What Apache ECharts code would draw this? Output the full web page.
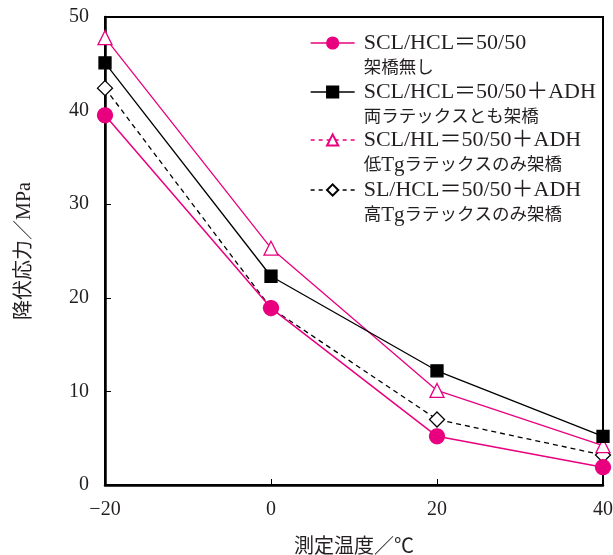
<!DOCTYPE html>
<html>
<head>
<meta charset="utf-8">
<script src="https://cdn.jsdelivr.net/npm/echarts@6/dist/echarts.min.js"></script>
<style>
  html, body { margin: 0; padding: 0; background: #fff; }
  #chart { width: 613px; height: 555px; }
</style>
</head>
<body>
<div id="chart"></div>
<script>
// Measurement temperatures (°C)
const temps = [-20, 0, 20, 40];

// Yield stress (MPa) for each latex blend
const noCrosslink   = [39.5, 18.9, 5.2, 1.9];   // SCL/HCL=50/50, no crosslinking
const bothCrosslink = [45.1, 22.3, 12.2, 5.2];  // SCL/HCL=50/50+ADH, both latexes crosslinked
const lowTgOnly     = [47.8, 25.3, 10.1, 4.2];  // SCL/HL=50/50+ADH, low-Tg latex only
const highTgOnly    = [42.4, 18.9, 7.0, 3.2];   // SL/HCL=50/50+ADH, high-Tg latex only

// Legend labels: formula line + description line
const formulaLines = [
  'SCL/HCL＝50/50',
  'SCL/HCL＝50/50＋ADH',
  'SCL/HL＝50/50＋ADH',
  'SL/HCL＝50/50＋ADH'
];
const noteLines = [
  '架橋無し',
  '両ラテックスとも架橋',
  '低Tgラテックスのみ架橋',
  '高Tgラテックスのみ架橋'
];
const seriesNames = formulaLines.map((f, i) => f + '\n' + noteLines[i]);

const xTicks = [-20, 0, 20, 40];
const yTicks = [0, 10, 20, 30, 40, 50];

const PINK = '#e8007f';
const INK = '#231f20';
const FONT = '"Liberation Serif", "Noto Sans CJK JP", serif';

const pairs = vals => temps.map((t, i) => [t, vals[i]]);

const styles = [
  { data: noCrosslink,   color: PINK,   symbol: 'circle',   size: 15, fill: PINK,   dash: 'solid', legendDash: 'solid', width: 1.5 },
  { data: bothCrosslink, color: '#000', symbol: 'rect',     size: 12, fill: '#000', dash: 'solid', legendDash: 'solid', width: 1.3 },
  { data: lowTgOnly,     color: PINK,   symbol: 'triangle', size: 14, fill: '#fff', dash: 'solid', legendDash: [4, 4], width: 1.3 },
  { data: highTgOnly,    color: '#000', symbol: 'diamond',  size: 15, fill: '#fff', dash: [5, 4],  legendDash: [4, 4], width: 1.3 }
];

const series = styles.map((s, i) => ({
  name: seriesNames[i],
  type: 'line',
  data: pairs(s.data),
  symbol: s.symbol,
  symbolSize: s.size,
  showAllSymbol: true,
  lineStyle: { color: s.color, width: s.width, type: s.dash },
  itemStyle: { color: s.fill, borderColor: s.color, borderWidth: 1.3 },
  z: 10 - i
}));

// Latin runs ("Tg") in the description line use the larger Latin size
const noteRich = s => '{b|' + s.replace(/Tg/g, '}{c|Tg}{b|') + '}';

const LINE_H = 25;
const legendCenters = [43, 92, 140, 190];
const legends = seriesNames.map((name, i) => ({
  data: [{
    name: name,
    lineStyle: { type: styles[i].legendDash, width: 1.3, color: styles[i].color }
  }],
  left: 310,
  top: legendCenters[i] - LINE_H * 1.5,
  padding: 0,
  orient: 'vertical',
  itemWidth: 44,
  itemHeight: 14,
  itemGap: 0,
  selectedMode: false,
  formatter: n => {
    const k = seriesNames.indexOf(n);
    return '{a|' + formulaLines[k] + '}\n' + noteRich(noteLines[k]);
  },
  textStyle: {
    fontFamily: FONT,
    color: INK,
    lineHeight: LINE_H,
    padding: [LINE_H, 0, 0, 4],
    rich: {
      a: { fontFamily: FONT, fontSize: 22, color: INK, lineHeight: LINE_H },
      b: { fontFamily: FONT, fontSize: 17.5, color: INK, lineHeight: LINE_H },
      c: { fontFamily: FONT, fontSize: 21, color: INK, lineHeight: LINE_H }
    }
  }
}));

const chart = echarts.init(document.getElementById('chart'), null, { renderer: 'canvas' });
chart.setOption({
  backgroundColor: '#fff',
  animation: false,
  legend: legends,
  grid: {
    left: 105, right: 10, top: 17, bottom: 70,
    outerBoundsMode: 'none',
    containLabel: false,
    show: true, borderColor: '#000', borderWidth: 2, backgroundColor: 'transparent'
  },
  xAxis: {
    type: 'value',
    min: xTicks[0], max: xTicks[xTicks.length - 1], interval: 20,
    name: '測定温度／℃',
    nameLocation: 'middle',
    nameGap: 53,
    nameTextStyle: { fontFamily: FONT, fontSize: 20, color: INK },
    axisLine: { onZero: false, lineStyle: { color: '#000', width: 2.5 } },
    axisTick: { inside: true, length: 6, lineStyle: { color: '#000', width: 1 } },
    axisLabel: {
      fontFamily: FONT, fontSize: 20, color: INK, margin: 15,
      formatter: v => (v < 0 ? '−' + Math.abs(v) : String(v))
    },
    splitLine: { show: false }
  },
  yAxis: {
    type: 'value',
    min: yTicks[0], max: yTicks[yTicks.length - 1], interval: 10,
    name: '降伏応力／MPa',
    nameLocation: 'middle',
    nameGap: 70,
    nameRotate: 90,
    nameTextStyle: { fontFamily: FONT, fontSize: 20, color: INK },
    axisLine: { show: true, onZero: false, lineStyle: { color: '#000', width: 2.5 } },
    axisTick: { show: true, inside: true, length: 6, lineStyle: { color: '#000', width: 1 } },
    axisLabel: { fontFamily: FONT, fontSize: 20, color: INK, margin: 16 },
    splitLine: { show: false }
  },
  series: series
});
</script>
</body>
</html>
